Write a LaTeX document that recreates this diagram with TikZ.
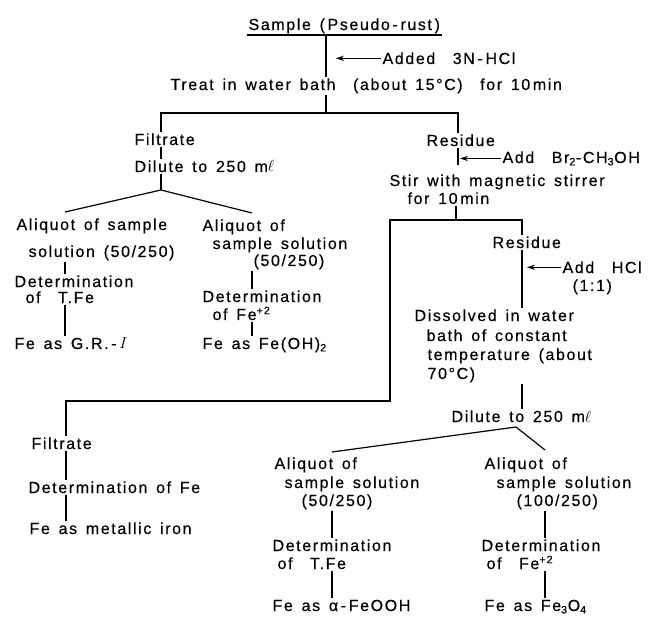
\documentclass[tikz,border=0pt]{standalone}
\usepackage{fontspec}
\setmainfont{Liberation Sans}[LetterSpace=10,WordSpace=1.45,FakeBold=0.4]
\usepackage{tikz}
\usetikzlibrary{arrows.meta}

\begin{document}
\begin{tikzpicture}[x=0.75pt,y=-0.75pt,
	txt/.style={anchor=base west, inner sep=1pt, font=\fontsize{12}{14}\selectfont},
	link/.style={line width=0.9pt},
	feed/.style={line width=0.9pt, -{Stealth[length=6pt,width=4pt]}}]

% frame %{{{2

	\useasboundingbox (0,0) rectangle (658,617);

% coordinates %{{{2

	\coordinate (c1) at (326,113);
	\coordinate (c1l) at (161,113);
	\coordinate (c1r) at (458,113);
	\coordinate (c2) at (161,190);
	\coordinate (c2l) at (65,212);
	\coordinate (c2r) at (252,213);
	\coordinate (c3) at (456,220);
	\coordinate (c3l) at (390,220);
	\coordinate (c3r) at (522,220);
	\coordinate (c4) at (390,401);
	\coordinate (c4l) at (66,401);
	\coordinate (c5) at (516,427);
	\coordinate (c5l) at (332,452);
	\coordinate (c5r) at (545,450);

	\coordinate (t1) at (336,59);
	\coordinate (t2) at (460,157);
	\coordinate (t3) at (527,271);

% top %{{{2

	\node[txt] (sample) at (247,30) {Sample (\,Pseudo\,-\,rust\,)};
	\node[txt] (added) at (381,64) {Added~~3N\,-\,HCl};
	\node[txt] (treat) at (169,90) {Treat in water bath~~(about 15°C)~~for 10\,min};

% filtrate, first branch %{{{2

	\node[txt] (filtA) at (133,145) {Filtrate};
	\node[txt] (dilA) at (133,172) {Dilute to 250 m$\ell$};

	\node[txt] (aliA) at (15,230) {Aliquot of sample};
	\node[txt] (solA) at (27,257) {solution (50/250)};
	\node[txt] (detA) at (13,287) {Determination};
	\node[txt] (ofTA) at (24,303) {of~~T.Fe};
	\node[txt] (grA) at (13,349) {Fe as G.R.\,-\,$I$};

	\node[txt] (aliB) at (201,231) {Aliquot of};
	\node[txt] (smpB) at (211,249) {sample solution};
	\node[txt] (parB) at (252,266) {(50/250)};
	\node[txt] (detB) at (201,302) {Determination};
	\node[txt] (ofFeB) at (211,320) {of Fe\textsuperscript{+2}};
	\node[txt] (ohB) at (201,349) {Fe as Fe(OH)\textsubscript{2}};

% residue, first branch %{{{2

	\node[txt] (resA) at (425,146) {Residue};
	\node[txt] (addBr) at (501,163) {Add~~Br\textsubscript{2}-CH\textsubscript{3}OH};
	\node[txt] (stir) at (388,186) {Stir with magnetic stirrer};
	\node[txt] (for10) at (406,204) {for 10\,min};

% residue, second branch %{{{2

	\node[txt] (resB) at (491,248) {Residue};
	\node[txt] (addHCl) at (561,273) {Add~~HCl};
	\node[txt] (ratio) at (571,291) {(1:1)};
	\node[txt] (dissA) at (413,321) {Dissolved in water};
	\node[txt] (dissB) at (425,341) {bath of constant};
	\node[txt] (dissC) at (426,360) {temperature (about};
	\node[txt] (dissD) at (426,379) {70°C)};
	\node[txt] (dilB) at (450,422) {Dilute to 250 m$\ell$};

	\node[txt] (aliC) at (273,469) {Aliquot of};
	\node[txt] (smpC) at (283,488) {sample solution};
	\node[txt] (parC) at (300,506) {(50/250)};
	\node[txt] (detC) at (271,551) {Determination};
	\node[txt] (ofTC) at (276,569) {of~~T.Fe};
	\node[txt] (feC) at (271,611) {Fe as α\,-\,FeOOH};

	\node[txt] (aliD) at (483,469) {Aliquot of};
	\node[txt] (smpD) at (495,488) {sample solution};
	\node[txt] (parD) at (515,506) {(100/250)};
	\node[txt] (detD) at (480,551) {Determination};
	\node[txt] (ofFeD) at (485,569) {of~~Fe\textsuperscript{+2}};
	\node[txt] (feD) at (483,611) {Fe as Fe\textsubscript{3}O\textsubscript{4}};

% filtrate, second branch %{{{2

	\node[txt] (filtC) at (30,449) {Filtrate};
	\node[txt] (detE) at (27,493) {Determination of Fe};
	\node[txt] (feE) at (28,534) {Fe as metallic iron};

% connectors %{{{2

	\draw[link] (sample.south west) -- (sample.south east);
	\draw[link] (sample.south -| c1) -- (treat.north -| c1);
	\draw[feed] (added.west) -- (added.west -| t1);
	\draw[link] (treat.south -| c1) -- (c1);
	\draw[link] (filtA.north -| c1l) -- (c1l) -- (c1r) -- (resA.north -| c1r);

	\draw[link] (filtA.south -| c2) -- (dilA.north -| c2);
	\draw[link] (dilA.south -| c2) -- (c2);
	\draw[link] (c2l) -- (c2) -- (c2r);
	\draw[link] (solA.south -| c2l) -- (detA.north -| c2l);
	\draw[link] (ofTA.south -| c2l) -- (grA.north -| c2l);
	\draw[link] (parB.south -| c2r) -- (detB.north -| c2r);
	\draw[link] (ofFeB.south -| c2r) -- (ohB.north -| c2r);

	\draw[link, shorten >=6pt] (resA.south -| c1r) -- (stir.north -| c1r);
	\draw[feed] (addBr.west) -- (addBr.west -| t2);
	\draw[link] (for10.south -| c3) -- (c3);
	\draw[link] (resB.north -| c3r) -- (c3r) -- (c3l) -- (c4) -- (c4l) -- (filtC.north -| c4l);

	\draw[link] (resB.south -| c3r) -- (dissA.north -| c3r);
	\draw[feed] (addHCl.west) -- (addHCl.west -| t3);
	\draw[link] (dissD.south -| c3r) -- (dilB.north -| c3r);
	\draw[link] (c5l) -- (c5) -- (c5r);
	\draw[link] (parC.south -| c5l) -- (detC.north -| c5l);
	\draw[link] (ofTC.south -| c5l) -- (feC.north -| c5l);
	\draw[link] (parD.south -| c5r) -- (detD.north -| c5r);
	\draw[link] (ofFeD.south -| c5r) -- (feD.north -| c5r);

	\draw[link] (filtC.south -| c4l) -- (detE.north -| c4l);
	\draw[link] (detE.south -| c4l) -- (feE.north -| c4l);

\end{tikzpicture}
\end{document}
